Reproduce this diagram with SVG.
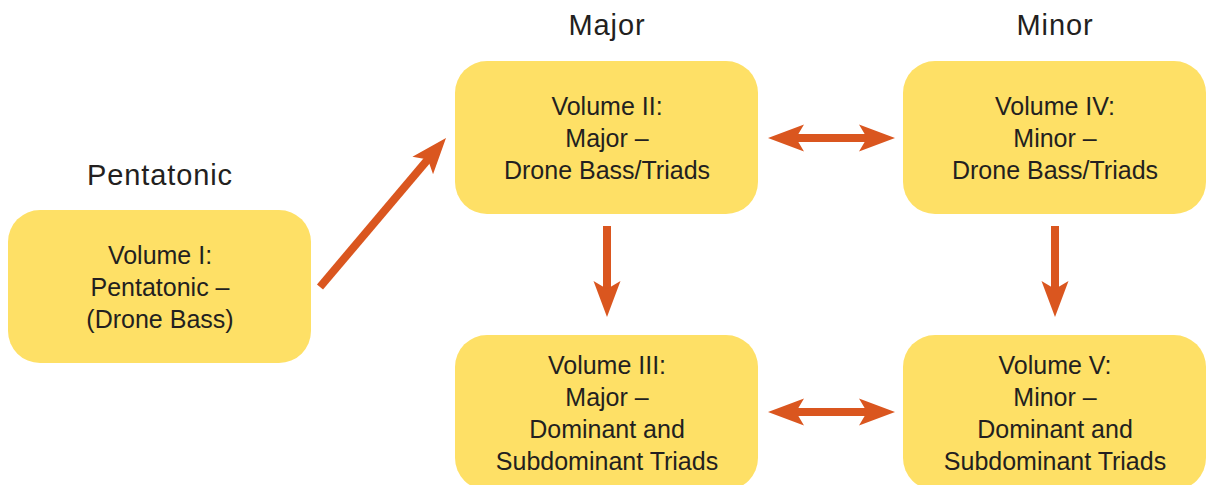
<svg xmlns="http://www.w3.org/2000/svg" width="1212" height="485" viewBox="0 0 1212 485">
  <style>
    .box { fill: #FEE066; }
    .label { font-family: "Liberation Sans", Arial, sans-serif; font-size: 25px; fill: #231F20; text-anchor: middle; }
    .heading { font-family: "Liberation Sans", Arial, sans-serif; font-size: 29px; fill: #231F20; text-anchor: middle; letter-spacing: 0.9px; }
    .conn { stroke: #DA561F; stroke-width: 8; fill: none; }
  </style>
  <defs>
    <marker id="head" markerUnits="userSpaceOnUse" markerWidth="40" markerHeight="30" viewBox="0 -15 40 30" refX="10" refY="0" orient="auto-start-reverse">
      <path d="M36,0 L0,-13.5 L8,0 L0,13.5 Z" fill="#DA561F"/>
    </marker>
  </defs>

  <rect width="1212" height="485" fill="#FFFFFF"/>

  <!-- column headings -->
  <g id="headings">
    <text class="heading" x="160" y="185">Pentatonic</text>
    <text class="heading" x="607" y="35">Major</text>
    <text class="heading" x="1055" y="35">Minor</text>
  </g>

  <g id="vol1">
    <rect class="box" x="8" y="210" width="303" height="153" rx="32"/>
    <text class="label" x="160" y="264">Volume I:</text>
    <text class="label" x="160" y="296">Pentatonic –</text>
    <text class="label" x="160" y="328">(Drone Bass)</text>
  </g>

  <g id="vol2">
    <rect class="box" x="455" y="61" width="303" height="153" rx="32"/>
    <text class="label" x="607" y="115">Volume II:</text>
    <text class="label" x="607" y="147">Major –</text>
    <text class="label" x="607" y="179">Drone Bass/Triads</text>
  </g>

  <g id="vol4">
    <rect class="box" x="903" y="61" width="303" height="153" rx="32"/>
    <text class="label" x="1055" y="115">Volume IV:</text>
    <text class="label" x="1055" y="147">Minor –</text>
    <text class="label" x="1055" y="179">Drone Bass/Triads</text>
  </g>

  <g id="vol3">
    <rect class="box" x="455" y="335" width="303" height="155" rx="32"/>
    <text class="label" x="607" y="374">Volume III:</text>
    <text class="label" x="607" y="406">Major –</text>
    <text class="label" x="607" y="438">Dominant and</text>
    <text class="label" x="607" y="470">Subdominant Triads</text>
  </g>

  <g id="vol5">
    <rect class="box" x="903" y="335" width="303" height="155" rx="32"/>
    <text class="label" x="1055" y="374">Volume V:</text>
    <text class="label" x="1055" y="406">Minor –</text>
    <text class="label" x="1055" y="438">Dominant and</text>
    <text class="label" x="1055" y="470">Subdominant Triads</text>
  </g>

  <g id="connectors">
    <line class="conn" x1="320" y1="287" x2="429.2" y2="157.9" marker-end="url(#head)"/>
    <line class="conn" x1="607" y1="226" x2="607" y2="291" marker-end="url(#head)"/>
    <line class="conn" x1="1055" y1="226" x2="1055" y2="291" marker-end="url(#head)"/>
    <line class="conn" x1="794" y1="138" x2="869" y2="138" marker-start="url(#head)" marker-end="url(#head)"/>
    <line class="conn" x1="794" y1="412" x2="869" y2="412" marker-start="url(#head)" marker-end="url(#head)"/>
  </g>
</svg>
